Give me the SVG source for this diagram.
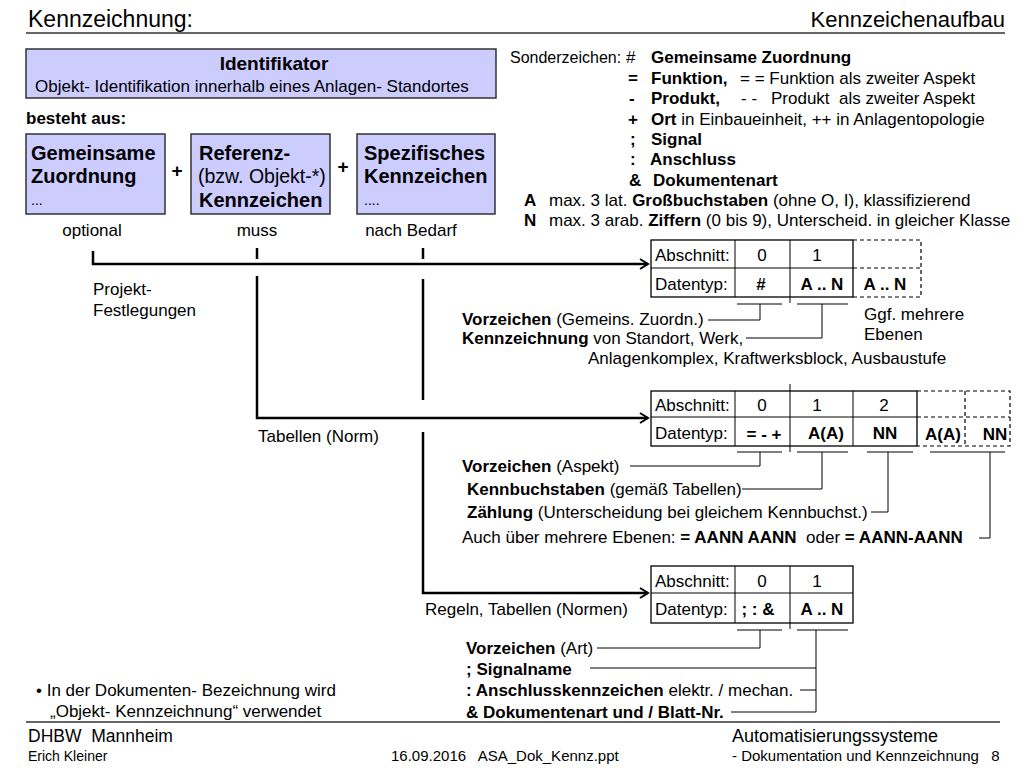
<svg xmlns="http://www.w3.org/2000/svg" width="1024" height="768" viewBox="0 0 1024 768">
<defs>
<marker id="arr" markerWidth="12" markerHeight="12" refX="10" refY="6" orient="auto" markerUnits="userSpaceOnUse">
<path d="M2,1 L10,6 L2,11" fill="none" stroke="#000" stroke-width="2"/>
</marker>
<style>
text{font-family:"Liberation Sans",Arial,sans-serif;fill:#000}
.b{font-weight:bold}
.t{font-size:17px}
.box{fill:#CCCCFF;stroke:#333;stroke-width:1.5}
.conn{fill:none;stroke:#000;stroke-width:2.5}
.thin{fill:none;stroke:#000;stroke-width:1}
.cell{fill:#fff;stroke:#000;stroke-width:1.3}
.dash{fill:none;stroke:#000;stroke-width:1.2;stroke-dasharray:4,3}
.rule{stroke:#333;stroke-width:1.5}
</style>
</defs>
<rect width="1024" height="768" fill="#fff"/>

<!-- header -->
<text x="28" y="27" font-size="23">Kennzeichnung:</text>
<text x="1005" y="27" font-size="22" text-anchor="end">Kennzeichenaufbau</text>
<line x1="26" y1="33" x2="1005" y2="33" class="rule"/>

<g id="identifikator">
<rect x="26" y="49" width="470" height="49" class="box"/>
<text x="274" y="70" font-size="19" class="b" text-anchor="middle">Identifikator</text>
<text x="35" y="92" class="t">Objekt- Identifikation innerhalb eines Anlagen- Standortes</text>
</g>

<text x="26" y="124" class="t b">besteht aus:</text>

<g id="gemeinsame">
<rect x="26" y="134" width="139" height="80" class="box"/>
<text x="31" y="160" font-size="20" class="b">Gemeinsame</text>
<text x="31" y="183" font-size="20" class="b">Zuordnung</text>
<text x="31" y="205" font-size="14">...</text>
</g>
<text x="177" y="177" font-size="19" class="b" text-anchor="middle">+</text>
<g id="referenz">
<rect x="191" y="134" width="139" height="80" class="box"/>
<text x="199" y="160" font-size="20" class="b">Referenz-</text>
<text x="198" y="183" font-size="19.5">(bzw. Objekt-*)</text>
<text x="199" y="207" font-size="20" class="b">Kennzeichen</text>
</g>
<text x="343" y="173" font-size="19" class="b" text-anchor="middle">+</text>
<g id="spezifisch">
<rect x="357" y="134" width="138" height="80" class="box"/>
<text x="364" y="160" font-size="20" class="b">Spezifisches</text>
<text x="364" y="183" font-size="20" class="b">Kennzeichen</text>
<text x="364" y="205" font-size="14">....</text>
</g>

<!-- Sonderzeichen -->
<g id="sonderzeichen" class="t">
<text x="510" y="63" font-size="16">Sonderzeichen:</text>
<text x="626" y="63">#</text>
<text x="651" y="63" class="b">Gemeinsame Zuordnung</text>
<text x="628" y="84" class="b">=</text>
<text x="651" y="84" class="b">Funktion,</text>
<text x="740" y="84">= = Funktion als zweiter Aspekt</text>
<text x="629" y="104" class="b">-</text>
<text x="651" y="104" class="b">Produkt,</text>
<text x="741" y="104">- -</text>
<text x="771" y="104" xml:space="preserve">Produkt  als zweiter Aspekt</text>
<text x="628" y="125" class="b">+</text>
<text x="651" y="125"><tspan class="b">Ort</tspan> in Einbaueinheit, ++ in Anlagentopologie</text>
<text x="630" y="145" class="b">;</text>
<text x="651" y="145" class="b">Signal</text>
<text x="630" y="165" class="b">:</text>
<text x="650" y="165" class="b">Anschluss</text>
<text x="629" y="186" class="b">&amp;</text>
<text x="653" y="186" class="b">Dokumentenart</text>
<text x="524" y="206" class="b">A</text>
<text x="549" y="206">max. 3 lat. <tspan class="b">Großbuchstaben</tspan> (ohne O, I), klassifizierend</text>
<text x="524" y="226" class="b">N</text>
<text x="549" y="226">max. 3 arab. <tspan class="b">Ziffern</tspan> (0 bis 9), Unterscheid. in gleicher Klasse</text>
</g>

<!-- labels -->
<g class="t">
<text x="92" y="236" text-anchor="middle">optional</text>
<text x="257" y="236" text-anchor="middle">muss</text>
<text x="411" y="236" text-anchor="middle">nach Bedarf</text>
<text x="93" y="295">Projekt-</text>
<text x="93" y="316">Festlegungen</text>
<text x="258" y="442">Tabellen (Norm)</text>
<text x="425" y="615">Regeln, Tabellen (Normen)</text>
</g>

<!-- connectors -->
<g id="connectors">
<polyline points="93,251 93,264 648,264" class="conn" marker-end="url(#arr)"/>
<line x1="257" y1="248" x2="257" y2="259" class="conn"/>
<line x1="423" y1="248" x2="423" y2="259" class="conn"/>
<polyline points="257,276 257,418 648,418" class="conn" marker-end="url(#arr)"/>
<line x1="423" y1="279" x2="423" y2="400" class="conn"/>
<polyline points="423,432 423,593 648,593" class="conn" marker-end="url(#arr)"/>

<!-- table1 brackets -->
<line x1="737" y1="304" x2="782" y2="304" class="thin"/>
<line x1="797" y1="304" x2="848" y2="304" class="thin"/>
<polyline points="760,304 760,320 708,320" class="thin"/>
<polyline points="822,304 822,338 746,338" class="thin"/>
<!-- table2 brackets -->
<line x1="737" y1="452" x2="782" y2="452" class="thin"/>
<line x1="797" y1="452" x2="848" y2="452" class="thin"/>
<line x1="867" y1="452" x2="913" y2="452" class="thin"/>
<line x1="930" y1="452" x2="1005" y2="452" class="thin"/>
<polyline points="760,452 760,466 630,466" class="thin"/>
<polyline points="822,452 822,489 742,489" class="thin"/>
<polyline points="888,452 888,512 871,512" class="thin"/>
<polyline points="990,452 990,538 979,538" class="thin"/>
<!-- table3 brackets -->
<line x1="737" y1="630" x2="782" y2="630" class="thin"/>
<line x1="797" y1="630" x2="848" y2="630" class="thin"/>
<polyline points="760,630 760,648 597,648" class="thin"/>
<line x1="816" y1="630" x2="816" y2="712" class="thin"/>
<line x1="590" y1="668" x2="816" y2="668" class="thin"/>
<line x1="800" y1="690" x2="816" y2="690" class="thin"/>
<line x1="731" y1="712" x2="816" y2="712" class="thin"/>
</g>

<!-- table 1 -->
<g id="table1" class="t">
<rect x="651" y="240" width="202" height="57" class="cell"/>
<line x1="651" y1="268" x2="853" y2="268" class="thin"/>
<line x1="735" y1="240" x2="735" y2="297" class="thin"/>
<line x1="790" y1="240" x2="790" y2="303" class="thin"/>
<polyline points="853,240 921,240 921,297 853,297" class="dash"/>
<line x1="853" y1="268" x2="921" y2="268" class="dash"/>
<text x="655" y="261">Abschnitt:</text>
<text x="762" y="261" text-anchor="middle">0</text>
<text x="817" y="261" text-anchor="middle">1</text>
<text x="655" y="290">Datentyp:</text>
<text x="761" y="290" class="b" text-anchor="middle">#</text>
<text x="822" y="290" class="b" text-anchor="middle">A .. N</text>
<text x="885" y="290" class="b" text-anchor="middle">A .. N</text>
</g>
<g class="t">
<text x="462" y="325"><tspan class="b">Vorzeichen</tspan> (Gemeins. Zuordn.)</text>
<text x="462" y="344"><tspan class="b">Kennzeichnung</tspan> von Standort, Werk,</text>
<text x="588" y="364">Anlagenkomplex, Kraftwerksblock, Ausbaustufe</text>
<text x="864" y="320">Ggf. mehrere</text>
<text x="864" y="340">Ebenen</text>
</g>

<!-- table 2 -->
<g id="table2" class="t">
<rect x="651" y="391" width="266" height="55" class="cell"/>
<line x1="651" y1="417" x2="917" y2="417" class="thin"/>
<line x1="735" y1="391" x2="735" y2="446" class="thin"/>
<line x1="790" y1="384" x2="790" y2="452" class="thin"/>
<line x1="853" y1="391" x2="853" y2="446" class="thin"/>
<polyline points="917,391 1010,391 1010,446 917,446" class="dash"/>
<line x1="917" y1="417" x2="1010" y2="417" class="dash"/>
<line x1="965" y1="391" x2="965" y2="446" class="dash"/>
<text x="655" y="411">Abschnitt:</text>
<text x="762" y="411" text-anchor="middle">0</text>
<text x="817" y="411" text-anchor="middle">1</text>
<text x="884" y="411" text-anchor="middle">2</text>
<text x="655" y="439">Datentyp:</text>
<text x="764" y="440" class="b" text-anchor="middle">= - +</text>
<text x="826" y="439" class="b" text-anchor="middle">A(A)</text>
<text x="885" y="439" class="b" text-anchor="middle">NN</text>
<text x="943" y="440" class="b" text-anchor="middle">A(A)</text>
<text x="995" y="440" class="b" text-anchor="middle">NN</text>
</g>
<g class="t">
<text x="462" y="472"><tspan class="b">Vorzeichen</tspan> (Aspekt)</text>
<text x="467" y="495"><tspan class="b">Kennbuchstaben</tspan> (gemäß Tabellen)</text>
<text x="467" y="518"><tspan class="b">Zählung</tspan> (Unterscheidung bei gleichem Kennbuchst.)</text>
<text x="462" y="543" xml:space="preserve">Auch über mehrere Ebenen: <tspan class="b">= AANN AANN</tspan>  oder <tspan class="b">= AANN-AANN</tspan></text>
</g>

<!-- table 3 -->
<g id="table3" class="t">
<rect x="651" y="566" width="202" height="57" class="cell"/>
<line x1="651" y1="593" x2="853" y2="593" class="thin"/>
<line x1="735" y1="566" x2="735" y2="623" class="thin"/>
<line x1="790" y1="566" x2="790" y2="629" class="thin"/>
<text x="655" y="587">Abschnitt:</text>
<text x="762" y="587" text-anchor="middle">0</text>
<text x="817" y="587" text-anchor="middle">1</text>
<text x="655" y="615">Datentyp:</text>
<text x="758" y="615" class="b" text-anchor="middle">; : &amp;</text>
<text x="822" y="615" class="b" text-anchor="middle">A .. N</text>
</g>
<g class="t">
<text x="466" y="654"><tspan class="b">Vorzeichen</tspan> (Art)</text>
<text x="466" y="675" class="b">; Signalname</text>
<text x="466" y="696"><tspan class="b">: Anschlusskennzeichen</tspan> elektr. / mechan.</text>
<text x="466" y="718" class="b">&amp; Dokumentenart und / Blatt-Nr.</text>
</g>

<!-- bullet -->
<g class="t">
<text x="36" y="696">• In der Dokumenten- Bezeichnung wird</text>
<text x="50" y="717">„Objekt- Kennzeichnung“ verwendet</text>
</g>

<!-- footer -->
<line x1="26" y1="722" x2="1000" y2="722" class="rule"/>
<text x="28" y="742" font-size="17.5" xml:space="preserve">DHBW  Mannheim</text>
<text x="28" y="761" font-size="14">Erich Kleiner</text>
<text x="391" y="761" font-size="15" xml:space="preserve">16.09.2016   ASA_Dok_Kennz.ppt</text>
<text x="732" y="742" font-size="18">Automatisierungssysteme</text>
<text x="732" y="761" font-size="15" xml:space="preserve">- Dokumentation und Kennzeichnung   8</text>
</svg>
